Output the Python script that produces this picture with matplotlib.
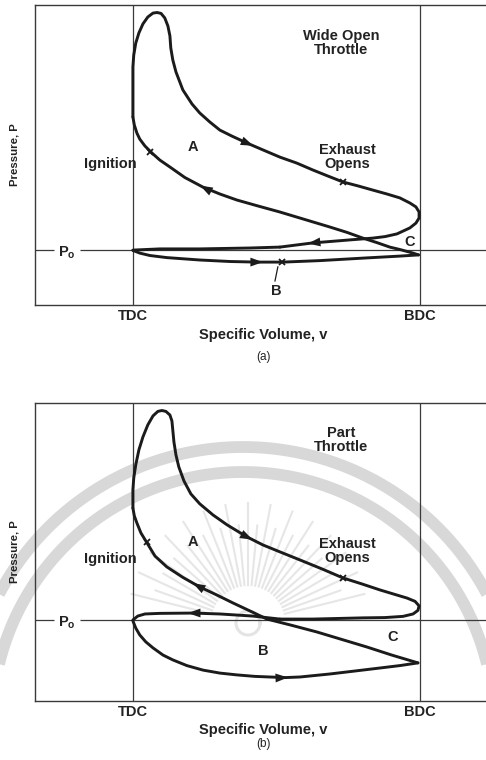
import numpy as np
import matplotlib
matplotlib.use("Agg")
import matplotlib.pyplot as plt

plt.rcParams['font.family'] = ['Liberation Sans', 'DejaVu Sans']

# ---------------- data ----------------
# v : specific volume, % of stroke (TDC = 0, BDC = 100)
# P : pressure, % of the panel's pressure scale
tick_labels = ["TDC", "BDC"]
tick_pos = [0, 100]

# (a) Wide open throttle
a_Po = 18.3
a_comp_v = [99.5, 97.6, 93.0, 89.5, 85.0, 80.1, 74.6, 68.6, 59.9, 51.2, 43.6, 36.2, 30.3, 24.4,
            18.1, 12.9, 9.4, 6.6, 4.2, 2.4, 1.4, 0.5, 0.0]
a_comp_P = [16.7, 17.3, 18.5, 19.3, 20.8, 22.3, 24.2, 26.0, 28.5, 31.0, 33.0, 35.0, 37.0, 39.3,
            42.5, 46.0, 48.3, 50.7, 53.0, 55.3, 57.3, 60.0, 62.7]
a_comb_v = [0.0, 0.0, 0.0, 0.0, 0.3, 1.0, 2.1, 3.5, 5.2, 7.0, 8.4, 9.8, 11.1, 12.2, 12.9, 13.2,
            13.9, 15.0, 17.4, 20.6, 23.3, 26.8, 30.3, 34.5, 39.7, 45.3, 51.2, 57.1, 62.7, 67.9,
            73.2, 78.4, 83.6, 88.5, 93.0, 96.5, 98.6, 99.7, 99.7, 98.6, 96.5, 92.0, 87.8, 83.6,
            75.6, 62.7, 51.2]
a_comb_P = [62.7, 68.3, 74.0, 79.3, 83.3, 87.3, 90.7, 93.7, 96.0, 97.3, 97.5, 97.2, 95.7, 93.0,
            89.7, 85.7, 81.7, 77.7, 71.7, 67.0, 64.0, 61.0, 58.3, 56.3, 54.0, 51.7, 49.3, 47.3,
            45.0, 43.0, 41.0, 39.7, 38.3, 37.0, 35.7, 34.0, 32.7, 31.0, 29.0, 27.3, 25.7, 23.7,
            22.8, 22.3, 21.7, 20.7, 19.3]
a_exh_v = [51.2, 40.8, 23.3, 9.4, 0.0]
a_exh_P = [19.3, 19.0, 18.7, 18.7, 18.3]
a_int_v = [0.0, 2.4, 5.9, 11.8, 23.3, 33.8, 43.2, 52.3, 65.2, 81.5, 93.0, 99.5]
a_int_P = [18.2, 17.3, 16.5, 15.8, 15.0, 14.5, 14.3, 14.3, 14.8, 15.7, 16.3, 16.7]
a_mark_v = [5.9, 73.2, 51.9]
a_mark_P = [50.9, 41.0, 14.3]

# (b) Part throttle
b_Po = 27.0
b_comp_v = [99.3, 90.2, 81.5, 72.8, 64.1, 55.4, 46.7, 40.8, 34.8, 29.3, 23.3, 17.4, 11.8, 7.7,
            4.9, 2.8, 1.4, 0.5, 0.0]
b_comp_P = [12.7, 15.3, 18.0, 20.5, 23.0, 25.2, 27.3, 30.0, 32.7, 35.3, 38.0, 41.2, 44.7, 48.3,
            52.7, 56.0, 59.3, 61.7, 64.3]
b_comb_v = [0.0, 0.0, 0.3, 1.0, 2.1, 3.5, 5.2, 7.0, 8.7, 10.1, 11.5, 12.9, 13.6, 13.9, 14.3,
            15.0, 16.0, 17.8, 20.2, 23.3, 27.9, 32.8, 39.7, 45.3, 51.2, 58.2, 65.9, 73.2, 79.8,
            86.1, 91.3, 95.5, 98.3, 99.7, 99.3, 97.6, 94.1, 87.8, 80.1, 62.7, 51.2]
b_comb_P = [64.3, 70.3, 74.3, 78.7, 83.7, 88.0, 92.0, 95.0, 96.5, 96.8, 96.5, 95.3, 93.3, 90.3,
            86.3, 82.0, 78.0, 73.3, 69.0, 65.7, 62.0, 58.7, 54.7, 52.0, 49.7, 47.0, 44.0, 41.0,
            39.0, 37.0, 35.5, 34.3, 33.2, 31.7, 30.2, 29.0, 28.2, 27.8, 27.7, 27.3, 27.3]
b_exh_v = [51.2, 41.8, 30.3, 20.9, 9.4, 4.2, 1.7, 0.0]
b_exh_P = [27.3, 28.3, 29.0, 29.3, 29.2, 29.0, 28.3, 27.0]
b_int_v = [0.0, 1.0, 2.4, 4.5, 7.0, 10.5, 13.9, 18.8, 24.4, 30.3, 36.2, 42.5, 47.7, 53.0, 58.2,
           68.6, 77.4, 86.1, 93.0, 99.3]
b_int_P = [26.7, 24.3, 22.0, 19.7, 17.7, 15.3, 13.7, 11.8, 10.3, 9.3, 8.7, 8.2, 8.0, 7.8, 8.0,
           9.0, 10.0, 11.0, 11.8, 12.7]
b_mark_v = [4.9, 73.2]
b_mark_P = [53.0, 41.0]

# ---------------- style ----------------
INK = "#1b1b1b"
TXT = "#222222"
FRAME = "#3a3a3a"
V_LO, V_HI = -34.1, 125.1
FS = 10.5

W, H = 486, 760
fig = plt.figure(figsize=(W / 100, H / 100), dpi=100)
fig.patch.set_facecolor("white")


def add_ax(left, top, right, bottom):
    return fig.add_axes([left / W, 1 - bottom / H, (right - left) / W, (bottom - top) / H])


def arrow(ax, v, P, i, frac):
    x0, y0 = v[i], P[i]
    x1, y1 = v[i + 1], P[i + 1]
    tip = (x0 + (x1 - x0) * frac, y0 + (y1 - y0) * frac)
    ax.annotate("", xy=tip, xytext=(x0, y0),
                arrowprops=dict(arrowstyle="-|>,head_length=0.9,head_width=0.32",
                                mutation_scale=10, color=INK, lw=0,
                                shrinkA=0, shrinkB=0), zorder=5)


def panel(ax, Po, curves, marks, arrows, texts, tag, ylab_y, xl_off, tag_off, ytop):
    ax.set_xlim(V_LO, V_HI)
    ax.set_ylim(0, ytop)
    ax.set_facecolor("none")
    for s in ("top", "left", "bottom"):
        ax.spines[s].set_color(FRAME)
        ax.spines[s].set_linewidth(1.0)
    ax.spines["right"].set_visible(False)
    ax.set_yticks([])
    ax.set_xticks(tick_pos)
    ax.set_xticklabels(tick_labels, fontsize=FS, color=TXT, fontweight="bold")
    ax.tick_params(axis="x", length=0, pad=3)
    for xv in tick_pos:
        ax.axvline(xv, color=FRAME, lw=0.9, zorder=1)
    ax.hlines(Po, V_LO, -27.5, color=FRAME, lw=0.9, zorder=1)
    ax.hlines(Po, -18.5, V_HI, color=FRAME, lw=0.9, zorder=1)
    ax.text(-23.0, Po - 0.8, r"$\mathregular{P_o}$", fontsize=FS, color=TXT,
            ha="center", va="center", fontweight="bold")
    for v, P in curves:
        ax.plot(v, P, color=INK, lw=2.1, solid_capstyle="round",
                solid_joinstyle="round", zorder=4)
    ax.plot(marks[0], marks[1], ls="none", marker="x", ms=5, mew=1.3, color=INK, zorder=5)
    for v, P, i, f in arrows:
        arrow(ax, v, P, i, f)
    for (x, y, s) in texts:
        ax.text(x, y, s, fontsize=FS, color=TXT, ha="center", va="center",
                linespacing=1.0, fontweight="bold", zorder=6)
    ax.text(-0.0438, ylab_y, "Pressure, P", transform=ax.transAxes, rotation=90,
            fontsize=8.2, color=TXT, ha="center", va="center", fontweight="bold")
    ax.text(0.5, xl_off, "Specific Volume, v", transform=ax.transAxes,
            fontsize=FS, color=TXT, ha="center", va="center", fontweight="bold")
    ax.text(0.5, tag_off, tag, transform=ax.transAxes,
            fontsize=8.5, color=TXT, ha="center", va="center")


# ---- faint background watermark behind the lower panel (decoration only) ----
wm = add_ax(0, 0, W, H)
wm.set_xlim(0, W)
wm.set_ylim(H, 0)
wm.axis("off")
wm.set_zorder(0)
WMC = "#d8d8d8"
acx, acy = 243, 723
for r in (276, 251):
    t = np.linspace(np.radians(185), np.radians(355), 300)
    wm.plot(acx + r * np.cos(t), acy + r * np.sin(t), color=WMC, lw=8.5,
            solid_capstyle="butt")
scx, scy = 248, 623
for k, ang in enumerate(np.linspace(194, 346, 29)):
    t = np.radians(ang)
    r1 = 120 if k % 2 == 0 else 98
    wm.plot([scx + 38 * np.cos(t), scx + r1 * np.cos(t)],
            [scy + 38 * np.sin(t), scy + r1 * np.sin(t)], color="#e6e6e6", lw=1.5)
tc = np.linspace(0, 2 * np.pi, 100)
wm.plot(scx + 12 * np.cos(tc), scy + 12 * np.sin(tc), color="#e4e4e4", lw=2.2)

ax_a = add_ax(35, 5, 492, 305)
ax_b = add_ax(35, 403, 492, 701)
ax_a.set_zorder(2)
ax_b.set_zorder(2)

panel(ax_a, a_Po,
      [(a_comp_v, a_comp_P), (a_comb_v, a_comb_P), (a_exh_v, a_exh_P), (a_int_v, a_int_P)],
      (a_mark_v, a_mark_P),
      [(a_comb_v, a_comb_P, 24, 0.4), (a_comp_v, a_comp_P, 13, 0.15),
       (a_comb_v, a_comb_P, 45, 0.15), (a_int_v, a_int_P, 6, 0.23)],
      [(72.5, 87.3, "Wide Open\nThrottle"), (20.9, 52.7, "A"), (-8.0, 47.0, "Ignition"),
       (74.6, 49.3, "Exhaust\nOpens"), (96.5, 21.0, "C"), (49.8, 4.7, "B")],
      "(a)", 0.5, -0.10, -0.173, 100)
ax_a.plot([50.5, 49.5], [12.7, 8.0], color=INK, lw=0.9, zorder=4)

panel(ax_b, b_Po,
      [(b_comp_v, b_comp_P), (b_comb_v, b_comb_P), (b_exh_v, b_exh_P), (b_int_v, b_int_P)],
      (b_mark_v, b_mark_P),
      [(b_comb_v, b_comb_P, 22, 0.35), (b_comp_v, b_comp_P, 10, 0.4),
       (b_exh_v, b_exh_P, 3, 0.15), (b_int_v, b_int_P, 13, 0.2)],
      [(72.5, 87.0, "Part\nThrottle"), (20.9, 53.0, "A"), (-8.0, 47.3, "Ignition"),
       (74.6, 50.0, "Exhaust\nOpens"), (90.6, 21.3, "C"), (45.3, 16.7, "B")],
      "(b)", 0.5, -0.097, -0.144, 99.3)

fig.savefig("out.png", dpi=100)
